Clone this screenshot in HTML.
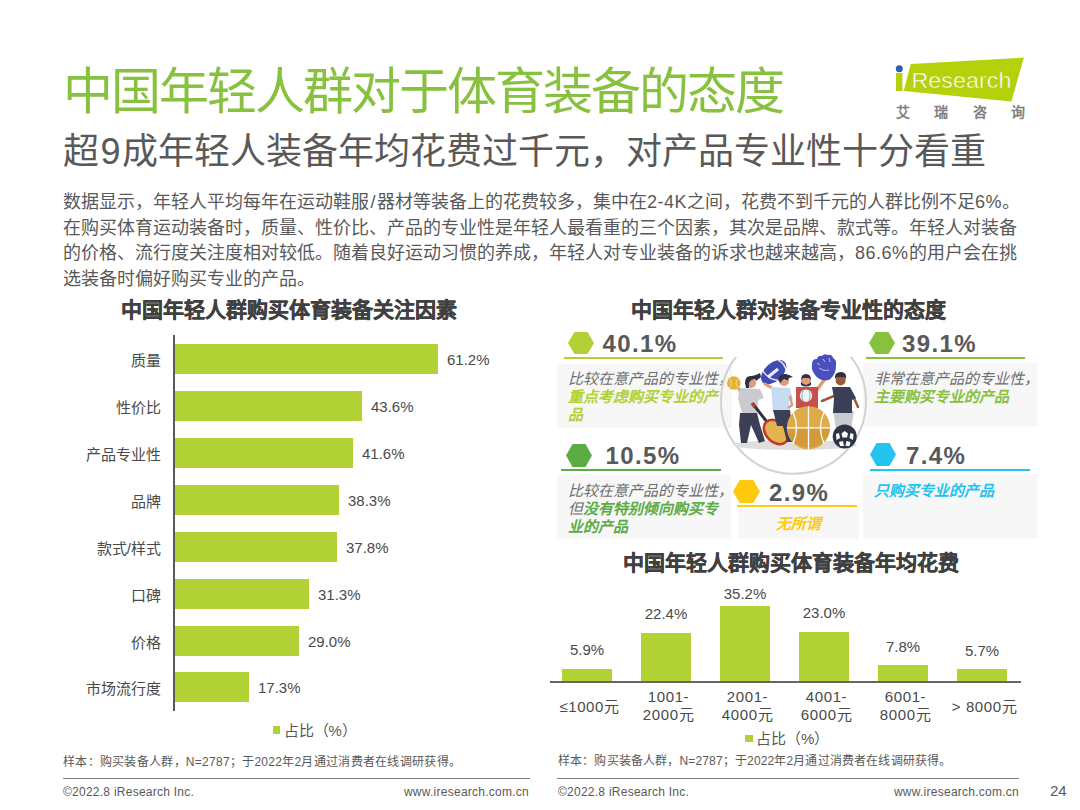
<!DOCTYPE html>
<html lang="zh-CN"><head><meta charset="utf-8">
<style>
*{margin:0;padding:0;box-sizing:border-box}
html,body{width:1080px;height:810px;overflow:hidden;background:#fff}
body{position:relative;font-family:"Liberation Sans",sans-serif;color:#595959}
.a{position:absolute;white-space:nowrap}
#title{left:63px;top:59px;font-size:50px;letter-spacing:-2px;line-height:66px;color:#88c140}
#sub{left:63px;top:127px;font-size:36px;line-height:50px;color:#595959}
#body{left:63px;top:190px;font-size:18px;line-height:25.6px;color:#595959}
.ct{font-size:21px;font-weight:bold;color:#404040;line-height:28px;-webkit-text-stroke:0.4px #404040}
.lbl{font-size:15px;line-height:20px;color:#4a4a4a;text-align:right}
.val{font-size:15px;line-height:20px;color:#4a4a4a}
.c{text-align:center}
.bar{position:absolute;background:#b1d135}
.foot{font-size:12px;line-height:16px;color:#595959}
.hr{position:absolute;height:1px;background:#7f7f7f}
.box{background:#f7f7f7}
.ln{height:2px}
.pct{font-size:24px;font-weight:bold;line-height:30px;color:#595959;letter-spacing:1.4px}
.ctx{font-size:15px;line-height:18px;font-style:italic;color:#6e6e6e;white-space:nowrap}
</style></head><body>
<div class="a" id="title">中国年轻人群对于体育装备的态度</div>
<div class="a" id="sub">超<span style="padding:0 1.5px">9</span>成年轻人装备年均花费过千元，对产品专业性十分看重</div>
<div class="a" id="body">数据显示，年轻人平均每年在运动鞋服<span style="padding:0 1.5px">/</span>器材等装备上的花费较多，集中在<span style="letter-spacing:0.5px">2-4K</span>之间，花费不到千元的人群比例不足<span style="letter-spacing:0.5px">6%</span>。<br>在购买体育运动装备时，质量、性价比、产品的专业性是年轻人最看重的三个因素，其次是品牌、款式等。年轻人对装备<br>的价格、流行度关注度相对较低。随着良好运动习惯的养成，年轻人对专业装备的诉求也越来越高，<span style="letter-spacing:0.5px">86.6%</span>的用户会在挑<br>选装备时偏好购买专业的产品。</div>

<svg class="a" style="left:880px;top:50px" width="160" height="75" viewBox="0 0 160 75">
<polygon points="30.7,13.9 143.9,7.6 131.4,51.4 23.75,41" fill="#b5d10a"/>
<rect x="16" y="23" width="6.4" height="18" fill="#b5d10a"/>
<circle cx="19.3" cy="18.75" r="3.5" fill="#2c5faa"/>
<text x="31.5" y="37.5" font-family="Liberation Sans" font-size="22.5" fill="#fff" stroke="#b5d10a" stroke-width="0.5" textLength="100" lengthAdjust="spacingAndGlyphs">Research</text>
</svg>
<div class="a" style="left:896px;top:103px;font-size:14px;line-height:18px;font-weight:bold;color:#7f7f7f;letter-spacing:24.3px">艾瑞咨询</div>

<!-- left chart -->
<div class="a ct" style="left:121px;top:296px">中国年轻人群购买体育装备关注因素</div>
<div class="a" style="left:173.3px;top:335px;width:1.5px;height:376px;background:#595959"></div>
<div class="bar" style="left:175px;top:344px;width:263px;height:30px"></div>
<div class="bar" style="left:175px;top:391px;width:187px;height:30px"></div>
<div class="bar" style="left:175px;top:438px;width:178px;height:30px"></div>
<div class="bar" style="left:175px;top:485px;width:164px;height:30px"></div>
<div class="bar" style="left:175px;top:532px;width:162px;height:30px"></div>
<div class="bar" style="left:175px;top:579px;width:134px;height:30px"></div>
<div class="bar" style="left:175px;top:626px;width:124px;height:30px"></div>
<div class="bar" style="left:175px;top:672px;width:74px;height:30px"></div>

<div class="a lbl" style="right:919px;top:350.5px">质量</div>
<div class="a lbl" style="right:919px;top:397.5px">性价比</div>
<div class="a lbl" style="right:919px;top:444.5px">产品专业性</div>
<div class="a lbl" style="right:919px;top:491.5px">品牌</div>
<div class="a lbl" style="right:919px;top:538.5px">款式/样式</div>
<div class="a lbl" style="right:919px;top:585.5px">口碑</div>
<div class="a lbl" style="right:919px;top:632.5px">价格</div>
<div class="a lbl" style="right:919px;top:678.5px">市场流行度</div>

<div class="a val" style="left:447px;top:349.5px">61.2%</div>
<div class="a val" style="left:371px;top:396.5px">43.6%</div>
<div class="a val" style="left:362px;top:443.5px">41.6%</div>
<div class="a val" style="left:348px;top:490.5px">38.3%</div>
<div class="a val" style="left:346px;top:537.5px">37.8%</div>
<div class="a val" style="left:318px;top:584.5px">31.3%</div>
<div class="a val" style="left:308px;top:631.5px">29.0%</div>
<div class="a val" style="left:258px;top:677.5px">17.3%</div>

<div class="a" style="left:272.5px;top:726px;width:7.5px;height:8px;background:#b1d135"></div>
<div class="a val" style="left:283.5px;top:721px;color:#595959">占比（%）</div>

<div class="a foot" style="left:63px;top:754px;letter-spacing:0.28px">样本：购买装备人群，N=2787；于2022年2月通过消费者在线调研获得。</div>
<div class="hr" style="left:63px;top:777.5px;width:467px;height:1.5px"></div>
<div class="a foot" style="left:63px;top:784px;letter-spacing:0.25px">©2022.8 iResearch Inc.</div>
<div class="a foot" style="left:382px;top:784px;width:147px;text-align:right;letter-spacing:0.25px">www.iresearch.com.cn</div>

<!-- right top -->
<div class="a ct" style="left:631px;top:296px">中国年轻人群对装备专业性的态度</div>
<div class="a box" style="left:557px;top:364px;width:175px;height:64px"></div>
<div class="a box" style="left:863px;top:363px;width:174px;height:64px"></div>
<div class="a box" style="left:557px;top:475px;width:174px;height:64px"></div>
<div class="a box" style="left:863px;top:475px;width:174px;height:64px"></div>
<div class="a box" style="left:738px;top:509px;width:121px;height:30px"></div>

<div class="a ln" style="left:564px;top:357px;width:159px;background:#b1d135"></div>
<div class="a ln" style="left:866px;top:357px;width:159px;background:#88c140"></div>
<div class="a ln" style="left:561px;top:469px;width:160px;background:#5cac46"></div>
<div class="a ln" style="left:870px;top:469px;width:160px;background:#23c4ef"></div>
<div class="a ln" style="left:737px;top:505px;width:120px;background:#ffc90e"></div>

<svg class="a" style="left:568px;top:332px" width="26" height="22"><polygon points="0,11 6.5,0 19.5,0 26,11 19.5,22 6.5,22" fill="#b1d135"/></svg>
<svg class="a" style="left:869px;top:332px" width="26" height="22"><polygon points="0,11 6.5,0 19.5,0 26,11 19.5,22 6.5,22" fill="#88c140"/></svg>
<svg class="a" style="left:566px;top:444px" width="26" height="23"><polygon points="0,11.5 6.5,0 19.5,0 26,11.5 19.5,23 6.5,23" fill="#5cac46"/></svg>
<svg class="a" style="left:870px;top:443px" width="26" height="23"><polygon points="0,11.5 6.5,0 19.5,0 26,11.5 19.5,23 6.5,23" fill="#23c4ef"/></svg>
<svg class="a" style="left:733px;top:480px" width="27" height="23"><polygon points="0,11.5 6.75,0 20.25,0 27,11.5 20.25,23 6.75,23" fill="#ffc90e"/></svg>

<div class="a pct" style="left:602.5px;top:328.5px">40.1%</div>
<div class="a pct" style="left:902px;top:328.5px">39.1%</div>
<div class="a pct" style="left:605.5px;top:440.5px">10.5%</div>
<div class="a pct" style="left:906px;top:440.5px">7.4%</div>
<div class="a pct" style="left:769px;top:477.5px">2.9%</div>

<div class="a ctx" style="left:568px;top:370px;width:160px">比较在意产品的专业性，<br><b style="color:#b1d135">重点考虑购买专业的产<br>品</b></div>
<div class="a ctx" style="left:874px;top:370px;width:160px">非常在意产品的专业性，<br><b style="color:#88c140">主要购买专业的产品</b></div>
<div class="a ctx" style="left:568px;top:482px;width:160px">比较在意产品的专业性，<br>但<b style="color:#5cac46">没有特别倾向购买专<br>业的产品</b></div>
<div class="a ctx" style="left:874px;top:482px;width:160px"><b style="color:#23c4ef">只购买专业的产品</b></div>
<div class="a ctx" style="left:776px;top:515px;width:60px"><b style="color:#ffc90e">无所谓</b></div>

<svg class="a" style="left:715px;top:350px" width="160" height="130" viewBox="0 0 160 130">
<defs><clipPath id="cc"><rect x="0" y="7" width="160" height="123"/></clipPath></defs>
<circle cx="78.5" cy="51.25" r="72.5" fill="none" stroke="#d2d2d2" stroke-width="2" clip-path="url(#cc)"/>
<ellipse cx="80" cy="95" rx="62" ry="5" fill="#dedede"/>
<!-- person1 -->
<path d="M22,36 L28,46" stroke="#e09a7c" stroke-width="3" stroke-linecap="round"/>
<circle cx="18.8" cy="33" r="6.8" fill="#e2b23a"/>
<path d="M14,28 Q19,33 14,38 M23.5,28 Q18.5,33 23.5,38" stroke="#f6dc9a" stroke-width="1" fill="none"/>
<polygon points="25,38 45,39 49,48 43,50 42,63 27,63 23,48" fill="#c9cbd0"/>
<circle cx="36" cy="33" r="5" fill="#e09a7c"/>
<path d="M30,33 Q30,25 37,26 Q42,25 45,23 L46,27 Q42,30 41,31 L40,29 Q36,29 34,33 L34,38 L31,38 Z" fill="#2d3142"/>
<polygon points="25,63 42,63 45,75 50,91 44,93 36,75 32,93 26,93 24,75" fill="#3b4056"/>
<!-- racket -->
<path d="M38,54 L52,72" stroke="#2d3142" stroke-width="3"/>
<path d="M37,53 L40,57" stroke="#c0392b" stroke-width="3.5"/>
<ellipse cx="61" cy="82" rx="14" ry="10" transform="rotate(45 61 82)" fill="#e3b550" stroke="#c0392b" stroke-width="2.5"/>
<!-- football -->
<ellipse cx="58.7" cy="22.2" rx="15" ry="9" transform="rotate(-42 58.7 22.2)" fill="#3f4bb5"/>
<path d="M53,27 L63,19" stroke="#ffffff" stroke-width="3" opacity="0.9"/>
<path d="M47,20 Q55,32 66,30 M63,10 Q71,14 71,22" stroke="#ffffff" stroke-width="1.5" fill="none" opacity="0.8"/>
<!-- person2 -->
<path d="M57,38 L50,34" stroke="#e09a7c" stroke-width="3" stroke-linecap="round"/>
<polygon points="56,37 75,38 78,50 74,51 75,63 58,62" fill="#c6dcf3"/>
<path d="M75,46 L77,55 L73,58" stroke="#e09a7c" stroke-width="2.5" fill="none"/>
<circle cx="69" cy="31" r="5" fill="#e09a7c"/>
<path d="M63,30 Q64,23 71,24 Q75,25 78,27 L74,28 Q73,32 70,29 Q67,29 66,33 Z" fill="#2d3142"/>
<polygon points="58,60 75,60 77,76 78,92 72,92 68,76 62,76" fill="#3b4056"/>
<!-- person3 -->
<path d="M102,40 L109,30" stroke="#e09a7c" stroke-width="3.5" stroke-linecap="round"/>
<polygon points="81,37 103,37 103,58 81,58" fill="#c64f47"/>
<circle cx="91" cy="45.7" r="6.2" fill="#f2f2f2"/>
<path d="M88,40 Q86,45.7 88,51 M94,40 Q96,45.7 94,51" stroke="#8cc9cc" stroke-width="1.2" fill="none"/>
<circle cx="91" cy="31" r="5" fill="#e09a7c"/>
<path d="M86,30 Q86,24 91,24 Q96,24 96,30 L94,28 L88,28 Z M86,32 Q91,38 96,32 L96,35 Q91,38 86,35 Z" fill="#2d3142"/>
<path d="M97,14 Q97,9 102,9 Q103,5 107,6 Q109,3 113,5 Q117,4 118,8 Q122,10 121,16 Q121,25 114,30 Q105,32 100,25 Q96,20 97,14 Z" fill="#4a4fc0"/><path d="M104,18 Q109,22 114,20 M102,13 L105,15 M108,9 L110,12 M114,8 L115,12" stroke="#c9ccf0" stroke-width="0.9" fill="none"/>
<!-- basketball -->
<circle cx="93.5" cy="77.8" r="21.6" fill="#dfaa48"/>
<path d="M72,78 A21.6,21.6 0 0 0 115,78 Z" fill="#d39a3c"/>
<path d="M93.5,56.2 L93.5,99.4 M71.9,77.8 L115.1,77.8" stroke="#fff" stroke-width="1.3"/>
<path d="M78,62 Q85,77.8 78,94 M109,62 Q102,77.8 109,94" stroke="#fff" stroke-width="1.3" fill="none"/>
<!-- person4 -->
<path d="M119,46 L107,51 M139,48 L143,57" stroke="#9c5b38" stroke-width="2.5" stroke-linecap="round"/>
<polygon points="118,59 139,61 136,80 121,80" fill="#c9cbd0"/>
<polygon points="117,37 135,37 141,48 137,50 137,63 118,63 119,48" fill="#3b4056"/>
<circle cx="125.6" cy="30.5" r="5" fill="#9c5b38"/>
<path d="M120,29 Q119,22 126,22 Q132,22 131,29 L129,27 L122,27 Z" fill="#2d3142"/>
<circle cx="129.7" cy="86.5" r="12" fill="#2f3447"/>
<polygon points="129.7,81 133,83.5 132,87.5 127.5,87.5 126.5,83.5" fill="#fff"/><polygon points="121,84 124,83 125,88 121.5,90" fill="#fff"/><polygon points="138.5,84 135.5,83 134.5,88 138,90" fill="#fff"/><polygon points="124,92 128,91 129,96 125,96" fill="#fff"/><polygon points="135.5,92 131.5,91 130.5,96 134.5,96" fill="#fff"/>
</svg>

<!-- right bottom chart -->
<div class="a ct" style="left:623px;top:549px">中国年轻人群购买体育装备年均花费</div>
<div class="bar" style="left:562px;top:669px;width:50px;height:13px"></div>
<div class="bar" style="left:641px;top:633px;width:50px;height:49px"></div>
<div class="bar" style="left:720px;top:605.5px;width:50px;height:76.5px"></div>
<div class="bar" style="left:799px;top:632px;width:50px;height:50px"></div>
<div class="bar" style="left:878px;top:665px;width:50px;height:17px"></div>
<div class="bar" style="left:957px;top:669px;width:50px;height:13px"></div>
<div class="a" style="left:550px;top:681px;width:471px;height:1.5px;background:#666"></div>

<div class="a val c" style="left:547px;top:640px;width:80px">5.9%</div>
<div class="a val c" style="left:626px;top:604px;width:80px">22.4%</div>
<div class="a val c" style="left:705px;top:584px;width:80px">35.2%</div>
<div class="a val c" style="left:784px;top:603px;width:80px">23.0%</div>
<div class="a val c" style="left:863px;top:637px;width:80px">7.8%</div>
<div class="a val c" style="left:942px;top:641px;width:80px">5.7%</div>
<div class="a val c" style="left:549.5px;top:697px;letter-spacing:0.6px;width:80px">≤1000元</div>
<div class="a val c" style="left:628.5px;top:688px;letter-spacing:0.6px;width:80px;line-height:18px;white-space:normal">1001-<br>2000元</div>
<div class="a val c" style="left:707.5px;top:688px;letter-spacing:0.6px;width:80px;line-height:18px;white-space:normal">2001-<br>4000元</div>
<div class="a val c" style="left:786.5px;top:688px;letter-spacing:0.6px;width:80px;line-height:18px;white-space:normal">4001-<br>6000元</div>
<div class="a val c" style="left:865.5px;top:688px;letter-spacing:0.6px;width:80px;line-height:18px;white-space:normal">6001-<br>8000元</div>
<div class="a val c" style="left:944.5px;top:697px;letter-spacing:0.6px;width:80px">&gt; 8000元</div>
<div class="a" style="left:744.5px;top:734.5px;width:8px;height:7.5px;background:#b1d135"></div>
<div class="a val" style="left:756px;top:729px;color:#595959">占比（%）</div>
<div class="a foot" style="left:558px;top:753px;letter-spacing:0.15px">样本：购买装备人群，N=2787；于2022年2月通过消费者在线调研获得。</div>
<div class="hr" style="left:557px;top:777.5px;width:462px;height:1.5px"></div>
<div class="a foot" style="left:558px;top:784px;letter-spacing:0.25px">©2022.8 iResearch Inc.</div>
<div class="a foot" style="left:871px;top:784px;width:148px;text-align:right;letter-spacing:0.25px">www.iresearch.com.cn</div>
<div class="a" style="left:1050px;top:781px;font-size:15px;line-height:20px;color:#595959">24</div>

</body></html>
